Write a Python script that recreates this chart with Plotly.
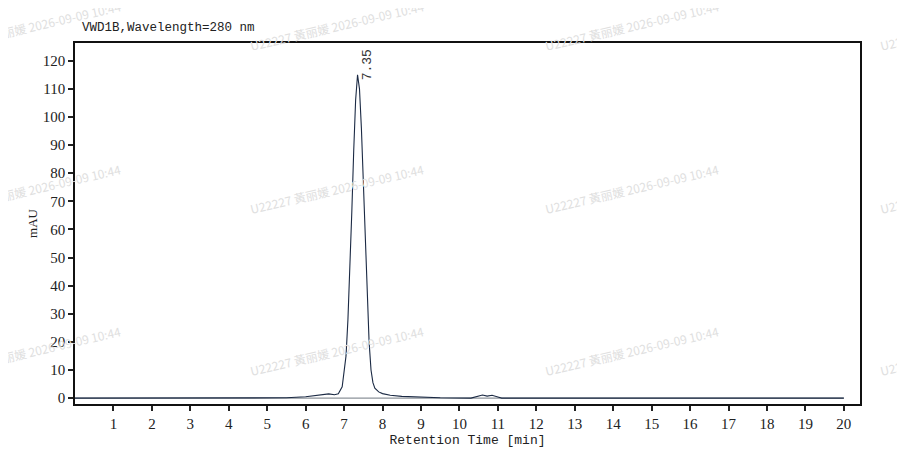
import plotly.graph_objects as go

# Chromatogram trace
time_min = [0.0, 5.0, 5.5, 6.0, 6.3, 6.6, 6.75, 6.85, 6.95, 7.05, 7.1, 7.15, 7.2, 7.25,
            7.3, 7.35, 7.4, 7.45, 7.5, 7.55, 7.6, 7.65, 7.7, 7.75, 7.8, 7.9, 8.0,
            8.2, 8.5, 9.0, 9.5, 10.3, 10.45, 10.6, 10.72, 10.85, 11.0, 11.1, 20.0]
signal_mau = [0.0, 0.0, 0.1, 0.5, 0.9, 1.5, 1.2, 1.5, 4.0, 15.0, 28.0, 45.0, 66.0, 88.0,
              106.0, 115.0, 110.0, 96.0, 75.0, 54.0, 35.0, 20.0, 10.0, 5.5, 3.5, 2.2, 1.6,
              1.0, 0.6, 0.3, 0.1, 0.0, 0.5, 1.1, 0.7, 1.0, 0.4, 0.0, 0.0]

baseline_t = [0.0, 20.0]
baseline_v = [0.0, 0.0]

peak_time = 7.35
peak_height = 115
peak_label = "7.35"

x_ticks = list(range(1, 21))
y_ticks = list(range(0, 121, 10))

watermark = "U22227 黃丽媛 2026-09-09 10:44"

# page has an 8px body margin, so the figure itself starts at (8, 8)
OFF = 8
W, H = 897, 449
L, R, T, B = 67, 45, 35, 49
pw, ph = W - L - R, H - T - B

fig = go.Figure()
fig.add_trace(go.Scatter(x=baseline_t, y=baseline_v, mode="lines",
                         line=dict(color="#6f7780", width=1), hoverinfo="skip"))
fig.add_trace(go.Scatter(x=time_min, y=signal_mau, mode="lines",
                         line=dict(color="#1b2a44", width=1.1)))

fig.add_annotation(x=peak_time, y=peak_height, text=peak_label, textangle=-90,
                   showarrow=False, xshift=10, yshift=10,
                   xanchor="center", yanchor="middle",
                   font=dict(family="Liberation Mono", size=13, color="#333"))

# watermark tiles, page pixel centres -> paper coords
for cx in [34, 337, 632, 967]:
    for cy in [25, 190, 354]:
        fig.add_annotation(x=(cx - OFF - L) / pw, y=(H - B - (cy - OFF)) / ph,
                           xref="paper", yref="paper", xanchor="center", yanchor="middle",
                           text=watermark, showarrow=False, textangle=-13,
                           font=dict(family="Noto Sans CJK SC", size=12, color="#e0e0e0"))

fig.add_annotation(x=(80 - OFF - L) / pw, y=(H - B - (28 - OFF)) / ph,
                   xref="paper", yref="paper", text="VWD1B,Wavelength=280 nm",
                   showarrow=False, xanchor="left", yanchor="middle",
                   font=dict(family="Liberation Mono", size=12.5, color="#222"))

tick_font = dict(family="Liberation Serif", size=15, color="#222")

fig.update_layout(
    width=W, height=H,
    margin=dict(l=L, r=R, t=T, b=B),
    paper_bgcolor="white", plot_bgcolor="white",
    showlegend=False,
    font=dict(family="Liberation Serif", size=15, color="#222"),
)
fig.update_xaxes(range=[0, 20.42], tickvals=x_ticks, ticks="outside", ticklen=5,
                 tickwidth=1.5, tickcolor="#222", tickfont=tick_font,
                 showgrid=False, zeroline=False,
                 showline=True, linecolor="#111", linewidth=1.5, mirror=True,
                 title=dict(text="Retention Time [min]", standoff=4,
                            font=dict(family="Liberation Mono", size=13)))
fig.update_yaxes(range=[-2.1, 126.3], tickvals=y_ticks, ticks="outside", ticklen=5,
                 tickwidth=1.5, tickcolor="#222", tickfont=tick_font,
                 showgrid=False, zeroline=False,
                 showline=True, linecolor="#111", linewidth=1.5, mirror=True,
                 title=dict(text="mAU", standoff=2,
                            font=dict(family="Liberation Serif", size=13)))

fig.write_html("out.html")
